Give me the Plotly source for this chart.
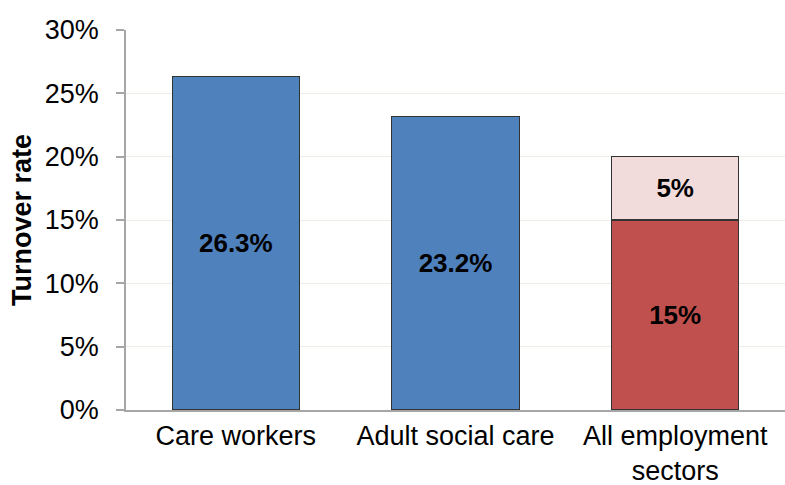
import plotly.graph_objects as go

categories = ["Care workers", "Adult social care", "All employment<br>sectors"]
base_values = [26.3, 23.2, 15]
base_labels = ["26.3%", "23.2%", "15%"]
top_values = [None, None, 5]
top_labels = ["", "", "5%"]
base_colors = ["#4F81BD", "#4F81BD", "#C0504D"]
top_color = "#F2DCDB"
y_ticks = [0, 5, 10, 15, 20, 25, 30]
y_tick_labels = ["0%", "5%", "10%", "15%", "20%", "25%", "30%"]

FONT = "Liberation Sans, Arial, sans-serif"

fig = go.Figure()
fig.add_trace(go.Bar(
    x=categories, y=base_values, text=base_labels,
    textposition="inside", insidetextanchor="middle",
    textfont=dict(family=FONT, size=26, color="#000000", weight="bold"),
    marker=dict(color=base_colors, line=dict(color="#333333", width=1.2)),
    width=0.58, showlegend=False, hoverinfo="skip",
))
fig.add_trace(go.Bar(
    x=categories, y=top_values, text=top_labels,
    textposition="inside", insidetextanchor="middle",
    textfont=dict(family=FONT, size=26, color="#000000", weight="bold"),
    marker=dict(color=top_color, line=dict(color="#333333", width=1.2)),
    width=0.58, showlegend=False, hoverinfo="skip",
))

fig.update_layout(
    barmode="stack",
    width=785, height=485,
    margin=dict(l=126, r=0, t=30, b=75),
    paper_bgcolor="white", plot_bgcolor="white",
    font=dict(family=FONT, color="#000000"),
    uniformtext=dict(mode=False),
)
fig.update_xaxes(
    showline=True, linecolor="#A6A6A6", linewidth=1.5,
    showgrid=False, ticks="", ticklabelstandoff=1, automargin=False,
    tickfont=dict(size=27, color="#000000"),
)
fig.update_yaxes(
    range=[0, 30], tickvals=y_ticks, ticktext=y_tick_labels,
    showline=True, linecolor="#A6A6A6", linewidth=1.5,
    ticks="outside", ticklen=8, tickcolor="#A6A6A6", tickwidth=1.5,
    ticklabelstandoff=12, automargin=False,
    showgrid=True, gridcolor="#EDEDE5", gridwidth=1,
    zeroline=False,
    tickfont=dict(size=27, color="#000000"),
    title=dict(text="Turnover rate", font=dict(size=27, weight="bold"), standoff=5),
)

fig.write_html("out.html")
